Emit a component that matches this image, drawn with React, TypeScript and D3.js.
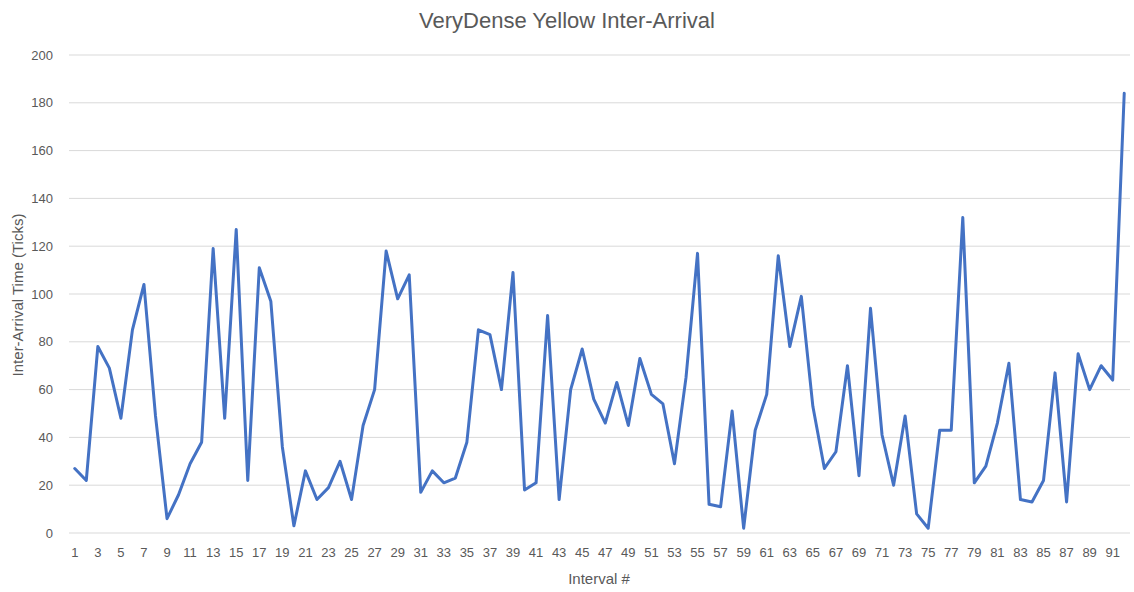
import { useEffect, useRef } from 'react';
import * as d3 from 'd3';

const title = 'VeryDense Yellow Inter-Arrival';
const xTitle = 'Interval #';
const yTitle = 'Inter-Arrival Time (Ticks)';

const intervals = d3.range(1, 93);
const arrivals = [
  27, 22, 78, 69, 48, 85, 104, 49, 6, 16,
  29, 38, 119, 48, 127, 22, 111, 97, 36, 3,
  26, 14, 19, 30, 14, 45, 60, 118, 98, 108,
  17, 26, 21, 23, 38, 85, 83, 60, 109, 18,
  21, 91, 14, 60, 77, 56, 46, 63, 45, 73,
  58, 54, 29, 65, 117, 12, 11, 51, 2, 43,
  58, 116, 78, 99, 53, 27, 34, 70, 24, 94,
  41, 20, 49, 8, 2, 43, 43, 132, 21, 28,
  46, 71, 14, 13, 22, 67, 13, 75, 60, 70,
  64, 184,
];
const yTicks = [0, 20, 40, 60, 80, 100, 120, 140, 160, 180, 200];

const App = () => {
  const ref = useRef<SVGSVGElement>(null);

  useEffect(() => {
    const width = 1134;
    const height = 592;
    const font = '"Liberation Sans", Arial, sans-serif';
    const textColor = '#595959';

    const svg = d3.select(ref.current);
    svg.selectAll('*').remove();
    svg.attr('width', width).attr('height', height);

    const x = d3.scaleBand<number>()
      .domain(intervals)
      .range([69, 1130]);
    const cx = (d: number) => (x(d) ?? 0) + x.bandwidth() / 2;

    const y = d3.scaleLinear()
      .domain([0, 200])
      .range([533, 55]);

    // сетка
    svg.append('g')
      .selectAll('line')
      .data(yTicks)
      .enter().append('line')
      .attr('x1', 69)
      .attr('x2', 1130)
      .attr('y1', d => y(d))
      .attr('y2', d => y(d))
      .attr('stroke', '#d9d9d9')
      .attr('stroke-width', 1);

    // подписи оси Y
    svg.append('g')
      .selectAll('text')
      .data(yTicks)
      .enter().append('text')
      .attr('x', 53)
      .attr('y', d => y(d))
      .attr('dy', '0.35em')
      .attr('text-anchor', 'end')
      .attr('font-family', font)
      .attr('font-size', 13)
      .attr('fill', textColor)
      .text(d => d);

    // подписи оси X
    svg.append('g')
      .selectAll('text')
      .data(intervals.filter(d => d % 2 === 1))
      .enter().append('text')
      .attr('x', d => cx(d))
      .attr('y', 552)
      .attr('dy', '0.35em')
      .attr('text-anchor', 'middle')
      .attr('font-family', font)
      .attr('font-size', 13)
      .attr('fill', textColor)
      .text(d => d);

    // линия
    const line = d3.line<number>()
      .x((_, i) => cx(intervals[i]))
      .y(d => y(d));

    svg.append('path')
      .datum(arrivals)
      .attr('d', line)
      .attr('fill', 'none')
      .attr('stroke', '#4472C4')
      .attr('stroke-width', 3)
      .attr('stroke-linejoin', 'round')
      .attr('stroke-linecap', 'round');

    // заголовки
    svg.append('text')
      .attr('x', 567)
      .attr('y', 20)
      .attr('dy', '0.35em')
      .attr('text-anchor', 'middle')
      .attr('font-family', font)
      .attr('font-size', 22)
      .attr('fill', textColor)
      .text(title);

    svg.append('text')
      .attr('x', 599)
      .attr('y', 579)
      .attr('dy', '0.35em')
      .attr('text-anchor', 'middle')
      .attr('font-family', font)
      .attr('font-size', 15)
      .attr('fill', textColor)
      .text(xTitle);

    svg.append('text')
      .attr('transform', 'translate(18,295) rotate(-90)')
      .attr('dy', '0.35em')
      .attr('text-anchor', 'middle')
      .attr('font-family', font)
      .attr('font-size', 15)
      .attr('fill', textColor)
      .text(yTitle);
  }, []);

  return (
    <svg
      ref={ref}
      style={{ position: 'absolute', left: 0, top: 0, background: '#fff' }}
    />
  );
};

export default App;
